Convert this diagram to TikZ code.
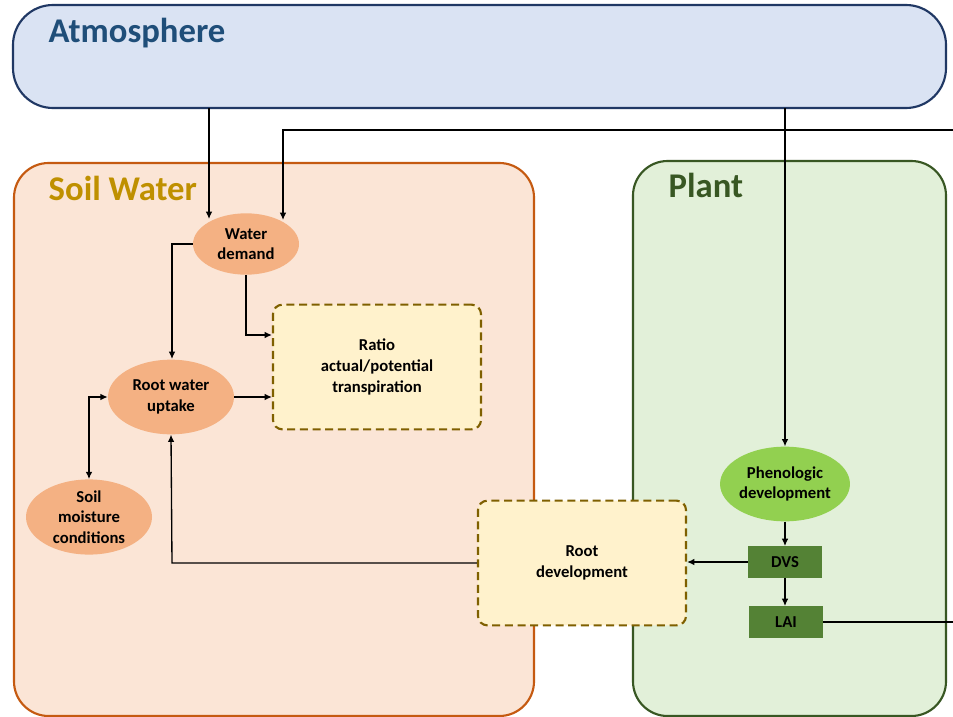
\documentclass[tikz,border=0pt]{standalone}
\usepackage{fontspec}
\setmainfont{Carlito}
\usetikzlibrary{shapes.geometric,arrows.meta}
\definecolor{atmfill}{HTML}{DAE3F3}
\definecolor{atmline}{HTML}{203864}
\definecolor{atmtext}{HTML}{1F4E79}
\definecolor{soilfill}{HTML}{FBE5D6}
\definecolor{soilline}{HTML}{C55A11}
\definecolor{soiltext}{HTML}{BF9000}
\definecolor{plantfill}{HTML}{E2F0D9}
\definecolor{plantline}{HTML}{385723}
\definecolor{ellfill}{HTML}{F4B183}
\definecolor{boxfill}{HTML}{FFF2CC}
\definecolor{boxline}{HTML}{7F6000}
\definecolor{phenfill}{HTML}{92D050}
\definecolor{darkgreen}{HTML}{548235}
\tikzset{
  x=0.75pt, y=-0.75pt,
  region/.style={draw, line width=1.6pt, rounded corners=26pt},
  title/.style={anchor=base west, font=\bfseries\fontsize{26}{30}\selectfont},
  lbl/.style={font=\bfseries\fontsize{12.5}{15.5}\selectfont, align=center, text=black},
  oval/.style={lbl, ellipse, fill=ellfill, draw=none, inner sep=0pt},
  dbox/.style={lbl, rectangle, rounded corners=7pt, fill=boxfill, draw=boxline, line width=1.6pt, dash pattern=on 6pt off 3.5pt},
  gbox/.style={lbl, rectangle, fill=darkgreen, draw=none, inner sep=0pt, minimum width=55.5pt, minimum height=23.5pt},
  arr/.style={-{Latex[length=5.5pt,width=5pt]}, line width=1pt, black},
  ln/.style={line width=1pt, black}
}
\begin{document}
\begin{tikzpicture}
\useasboundingbox (0,0) rectangle (953,717);
\fill[white] (0,0) rectangle (953,717);
% regions
\draw[region, fill=soilfill, draw=soilline] (14,163) rectangle (534,716);
\draw[region, fill=plantfill, draw=plantline] (633,161) rectangle (946,716);
\draw[region, rounded corners=30pt, fill=atmfill, draw=atmline] (13,5) rectangle (946,108);
\node[title, text=atmtext] (tatm) at (44,43) {Atmosphere};
\node[title, text=soiltext] (tsoil) at (44,200) {Soil Water};
\node[title, text=plantline] (tplant) at (664,197) {Plant};
% nodes
\node[oval, minimum width=79.5pt, minimum height=46pt] (wd) at (246,244) {Water\\demand};
\node[dbox, minimum width=156pt, minimum height=93.5pt] (ratio) at (377,367) {Ratio\\actual/potential\\transpiration};
\node[oval, minimum width=94.5pt, minimum height=56pt] (ru) at (171,397) {Root water\\uptake};
\node[oval, minimum width=94.5pt, minimum height=56pt] (sm) at (89,517) {Soil\\moisture\\conditions};
\node[dbox, minimum width=156pt, minimum height=93.5pt] (rd) at (582,563) {Root\\development};
\node[oval, fill=phenfill, minimum width=94.5pt, minimum height=56pt] (ph) at (785,484) {Phenologic\\development};
\node[gbox] (dvs) at (785,562) {DVS};
\node[gbox] (lai) at (786,622) {LAI};
% edge coordinates
\coordinate (e1) at (953,130);
\coordinate (e2) at (953,622);
\coordinate (atm1) at (209,108);
\coordinate (atm2) at (785,108);
% connectors
\draw[arr] (atm1) -- (209,219);
\draw[arr] (e1) -- (283,130) -- (283,220);
\draw[arr] (atm2) -- (ph.north);
\draw[arr] (wd.west) -- (172,244) -- (172,359);
\draw[arr] (wd.south) -- (246,335) -- (ratio.west |- 0,335);
\draw[arr] (ru.east) -- (ratio.west |- ru.east);
\draw[arr, {Latex[length=5.5pt,width=5pt]}-{Latex[length=5.5pt,width=5pt]}] (ru.west) -- (89,397) -- (sm.north);
\draw[arr] (rd.west) -- (172,563) -- (ru.south);
\draw[arr] (ph.south) -- (dvs.north);
\draw[arr] (dvs.west) -- (rd.east |- dvs.west);
\draw[arr] (dvs.south) -- (lai.north -| dvs.south);
\draw[ln] (lai.east) -- (e2);
\end{tikzpicture}
\end{document}
